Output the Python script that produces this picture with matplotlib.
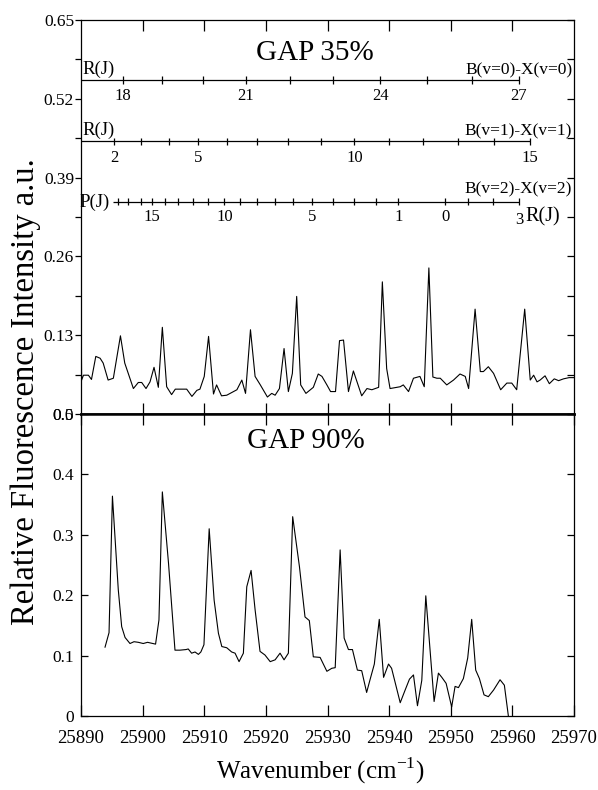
import numpy as np
import matplotlib
matplotlib.use("Agg")
import matplotlib.pyplot as plt
from matplotlib.ticker import FixedLocator, NullFormatter

plt.rcParams["font.family"] = ["Liberation Serif", "DejaVu Serif"]
plt.rcParams["mathtext.fontset"] = "custom"
plt.rcParams["mathtext.rm"] = "Liberation Serif"

# ---- spectrum, GAP 35% (upper panel)
wn35 = [25890.0, 25890.1, 25890.4, 25891.2, 25891.7, 25892.4, 25893.1, 25893.6, 25894.4, 25895.25,
        25896.4, 25897.1, 25898.5, 25899.3, 25899.85, 25900.55, 25901.2, 25901.85, 25902.55, 25903.2,
        25903.9, 25904.7, 25905.3, 25907.15, 25908.0, 25908.8, 25909.3, 25910.0, 25910.7, 25911.5,
        25912.0, 25912.8, 25913.65, 25915.3, 25916.1, 25916.7, 25917.5, 25918.25, 25919.1, 25920.25,
        25920.95, 25921.5, 25922.2, 25922.95, 25923.65, 25924.3, 25925.0, 25925.65, 25926.5, 25927.7,
        25928.5, 25929.1, 25929.9, 25930.5, 25931.3, 25931.95, 25932.6, 25933.4, 25934.2, 25935.55,
        25936.4, 25937.2, 25938.3, 25938.9, 25939.6, 25940.15, 25941.8, 25942.3, 25943.15, 25943.95,
        25945.0, 25945.7, 25946.45, 25947.1, 25947.75, 25948.3, 25949.35, 25950.45, 25951.5, 25952.35,
        25952.9, 25953.95, 25954.8, 25955.3, 25956.1, 25956.95, 25958.1, 25959.1, 25959.9, 25960.7,
        25962.0, 25962.9, 25963.45, 25964.0, 25964.5, 25965.3, 25966.0, 25966.8, 25967.5, 25968.3,
        25969.2, 25970.0]
int35 = [0.190, 0.056, 0.064, 0.064, 0.057, 0.095, 0.092, 0.084, 0.056, 0.059,
         0.129, 0.084, 0.042, 0.052, 0.052, 0.042, 0.053, 0.077, 0.044, 0.143,
         0.045, 0.032, 0.041, 0.041, 0.029, 0.039, 0.041, 0.062, 0.128, 0.033,
         0.048, 0.030, 0.031, 0.040, 0.056, 0.034, 0.139, 0.062, 0.048, 0.028,
         0.034, 0.031, 0.042, 0.108, 0.037, 0.067, 0.194, 0.048, 0.034, 0.044,
         0.066, 0.062, 0.048, 0.037, 0.037, 0.121, 0.122, 0.037, 0.071, 0.030,
         0.042, 0.040, 0.044, 0.218, 0.075, 0.042, 0.045, 0.048, 0.037, 0.059,
         0.062, 0.045, 0.241, 0.061, 0.059, 0.059, 0.048, 0.056, 0.066, 0.062,
         0.042, 0.173, 0.070, 0.070, 0.078, 0.067, 0.040, 0.051, 0.051, 0.040,
         0.173, 0.056, 0.064, 0.053, 0.056, 0.063, 0.050, 0.058, 0.055, 0.058,
         0.060, 0.060]

# ---- spectrum, GAP 90% (lower panel)
wn90 = [25893.9, 25894.55, 25895.1, 25896.05, 25896.6, 25897.15, 25897.95, 25898.6, 25899.3, 25900.1,
        25900.8, 25902.1, 25902.65, 25903.2, 25904.2, 25905.25, 25906.05, 25907.05, 25907.4, 25907.95,
        25908.5, 25909.05, 25909.45, 25909.95, 25910.8, 25911.6, 25912.3, 25912.85, 25913.65, 25914.45,
        25915.0, 25915.65, 25916.35, 25916.9, 25917.6, 25918.25, 25919.05, 25919.85, 25920.7, 25921.5,
        25922.3, 25922.95, 25923.65, 25924.35, 25925.45, 25926.35, 25927.05, 25927.7, 25928.8, 25929.9,
        25930.7, 25931.25, 25932.05, 25932.7, 25933.4, 25934.05, 25934.85, 25935.55, 25936.35, 25936.9,
        25937.6, 25938.4, 25939.1, 25939.9, 25940.4, 25941.8, 25942.6, 25943.3, 25943.95, 25944.6,
        25945.3, 25945.95, 25947.3, 25948.0, 25948.55, 25949.25, 25950.15, 25950.7, 25951.25, 25952.05,
        25952.75, 25953.4, 25954.05, 25954.65, 25955.4, 25956.1, 25956.95, 25958.0, 25958.7, 25959.35]
int90 = [0.114, 0.138, 0.364, 0.209, 0.148, 0.130, 0.120, 0.123, 0.122, 0.120,
         0.122, 0.119, 0.159, 0.371, 0.253, 0.109, 0.109, 0.110, 0.111, 0.104,
         0.106, 0.102, 0.106, 0.118, 0.310, 0.192, 0.137, 0.115, 0.113, 0.106,
         0.104, 0.090, 0.104, 0.214, 0.241, 0.176, 0.107, 0.101, 0.090, 0.093,
         0.104, 0.093, 0.104, 0.330, 0.247, 0.164, 0.158, 0.098, 0.097, 0.074,
         0.079, 0.080, 0.275, 0.129, 0.110, 0.110, 0.076, 0.075, 0.039, 0.060,
         0.086, 0.160, 0.064, 0.086, 0.079, 0.022, 0.043, 0.061, 0.068, 0.017,
         0.059, 0.199, 0.024, 0.071, 0.064, 0.054, 0.015, 0.049, 0.047, 0.062,
         0.096, 0.160, 0.076, 0.062, 0.035, 0.032, 0.043, 0.060, 0.051, 0.000]

# ---- rotational line assignments (wavenumber of each J)
v0_R_J = [18, 19, 20, 21, 22, 23, 24, 25, 26, 27]
v0_R_wn = [25896.87, 25903.10, 25909.85, 25916.74, 25923.93, 25930.96, 25938.54, 25946.12, 25953.42, 25961.02]
v0_labels = [18, 21, 24, 27]

v1_R_J = [2, 3, 4, 5, 6, 7, 8, 9, 10, 11, 12, 13, 14, 15]
v1_R_wn = [25895.41, 25899.74, 25904.29, 25908.94, 25913.65, 25918.62, 25923.65, 25928.96,
           25934.37, 25940.00, 25945.57, 25951.25, 25957.05, 25962.89]
v1_labels = [2, 5, 10, 15]

v2_P_J = [1, 2, 3, 4, 5, 6, 7, 8, 9, 10, 11, 12, 13, 14, 15, 16, 17, 18]
v2_P_wn = [25941.51, 25937.89, 25934.32, 25930.96, 25927.55, 25924.46, 25921.49, 25918.52, 25915.81,
           25913.26, 25910.67, 25908.13, 25905.70, 25903.64, 25901.57, 25899.74, 25897.68, 25896.06]
v2_P_labels = [15, 10, 5, 1]
v2_R_J = [0, 1, 2, 3]
v2_R_wn = [25949.09, 25952.87, 25956.93, 25961.15]
v2_R_labels = [0, 3]

XMIN, XMAX = 25890, 25970
xticks = [25890, 25900, 25910, 25920, 25930, 25940, 25950, 25960, 25970]
top_yticks = [0.0, 0.13, 0.26, 0.39, 0.52, 0.65]
top_yticklabels = ["0.0", "0.13", "0.26", "0.39", "0.52", "0.65"]
top_yminor = [0.065, 0.195, 0.325, 0.455, 0.585]
bot_yticks = [0.0, 0.1, 0.2, 0.3, 0.4, 0.5]
bot_yticklabels = ["0", "0.1", "0.2", "0.3", "0.4", "0.5"]

W, H = 598, 790
fig = plt.figure(figsize=(W / 100, H / 100), dpi=100)

L, R = 81, 574
ax1 = fig.add_axes([L / W, (H - 414) / H, (R - L) / W, (414 - 20) / H])
ax2 = fig.add_axes([L / W, (H - 716) / H, (R - L) / W, (716 - 414) / H])

lw_data = 0.8
fs_tick = 12.5

# upper panel
ax1.plot(wn35, int35, color="black", lw=lw_data)
ax1.set_xlim(XMIN, XMAX)
ax1.set_ylim(0, 0.65)
ax1.xaxis.set_major_locator(FixedLocator(xticks[1:-1]))
ax1.xaxis.set_major_formatter(NullFormatter())
ax1.tick_params(axis="x", which="major", direction="in", top=True, bottom=True, length=8, width=0.9)
ax1.yaxis.set_major_locator(FixedLocator(top_yticks))
ax1.set_yticklabels(top_yticklabels)
ax1.yaxis.set_minor_locator(FixedLocator(top_yminor))
ax1.tick_params(axis="y", which="major", direction="out", left=True, right=False, length=4, width=0.9,
                pad=1, labelsize=fs_tick)
ax1.tick_params(axis="y", which="minor", direction="out", left=True, right=False, length=4, width=0.9)
for s in ax1.spines.values():
    s.set_linewidth(0.9)
ax1.spines["bottom"].set_linewidth(1.8)

# inward ticks on the right side of the upper panel
ax1r = ax1.twinx()
ax1r.set_ylim(0, 0.65)
ax1r.yaxis.set_major_locator(FixedLocator(top_yticks))
ax1r.yaxis.set_minor_locator(FixedLocator(top_yminor))
ax1r.yaxis.set_major_formatter(NullFormatter())
ax1r.tick_params(axis="y", which="both", direction="in", length=5, width=0.9)
for s in ax1r.spines.values():
    s.set_visible(False)

ax1.text(25928, 0.595, "GAP 35%", ha="center", va="center", fontsize=21)

# assignment lines
h = 0.006
lev0, lev1, lev2 = 0.551, 0.450, 0.350
fs_num = 12
fs_br = 13.5
fs_state = 12.5

ax1.hlines(lev0, XMIN, v0_R_wn[-1], color="black", lw=0.9)
ax1.vlines(v0_R_wn, lev0 - h, lev0 + h, color="black", lw=0.9)
for j in v0_labels:
    ax1.text(v0_R_wn[v0_R_J.index(j)], lev0 - 0.027, str(j), ha="center", va="center", fontsize=fs_num)
ax1.text(XMIN + 0.3, lev0 + 0.003, "R(J)", ha="left", va="bottom", fontsize=fs_br)
ax1.text(XMAX - 0.3, lev0 + 0.003, "B(v=0)-X(v=0)", ha="right", va="bottom", fontsize=fs_state)

ax1.hlines(lev1, XMIN, v1_R_wn[-1], color="black", lw=0.9)
ax1.vlines(v1_R_wn, lev1 - h, lev1 + h, color="black", lw=0.9)
for j in v1_labels:
    ax1.text(v1_R_wn[v1_R_J.index(j)], lev1 - 0.027, str(j), ha="center", va="center", fontsize=fs_num)
ax1.text(XMIN + 0.3, lev1 + 0.003, "R(J)", ha="left", va="bottom", fontsize=fs_br)
ax1.text(XMAX - 0.3, lev1 + 0.003, "B(v=1)-X(v=1)", ha="right", va="bottom", fontsize=fs_state)

p_start = 25895.2
ax1.hlines(lev2, p_start, v2_R_wn[-1], color="black", lw=0.9)
ax1.vlines(v2_P_wn + v2_R_wn, lev2 - h, lev2 + h, color="black", lw=0.9)
for j in v2_P_labels:
    ax1.text(v2_P_wn[v2_P_J.index(j)], lev2 - 0.025, str(j), ha="center", va="center", fontsize=fs_num)
for j in v2_R_labels:
    dy = 0.030 if j == 3 else 0.025
    ax1.text(v2_R_wn[v2_R_J.index(j)], lev2 - dy, str(j), ha="center", va="center", fontsize=fs_num)
ax1.text(XMIN - 0.2, lev2, "P(J)", ha="left", va="center", fontsize=fs_br)
ax1.text(v2_R_wn[-1] + 1.0, lev2 - 0.024, "R(J)", ha="left", va="center", fontsize=fs_br + 1)
ax1.text(XMAX - 0.3, lev2 + 0.008, "B(v=2)-X(v=2)", ha="right", va="bottom", fontsize=fs_state)

# lower panel
ax2.plot(wn90, int90, color="black", lw=lw_data)
ax2.set_xlim(XMIN, XMAX)
ax2.set_ylim(0, 0.5)
ax2.xaxis.set_major_locator(FixedLocator(xticks))
ax2.set_xticklabels([str(x) for x in xticks])
ax2.tick_params(axis="x", which="major", direction="in", top=True, bottom=True, length=8, width=0.9,
                pad=10, labelsize=13.5)
ax2.yaxis.set_major_locator(FixedLocator(bot_yticks))
ax2.set_yticklabels(bot_yticklabels)
ax2.tick_params(axis="y", which="major", direction="in", left=True, right=True, length=5, width=0.9,
                pad=5, labelsize=fs_tick)
for s in ax2.spines.values():
    s.set_linewidth(0.9)
ax2.spines["top"].set_linewidth(1.8)

ax2.text(25926.5, 0.455, "GAP 90%", ha="center", va="center", fontsize=21)

fig.text(26 / W, 1 - 392 / H, "Relative Fluorescence Intensity a.u.", rotation=90,
         ha="center", va="center", fontsize=23.5)
fig.text(320 / W, 1 - 771 / H, r"Wavenumber (cm$^{\mathregular{-1}}$)", ha="center", va="center",
         fontsize=18)

fig.savefig("out.png", dpi=100)
